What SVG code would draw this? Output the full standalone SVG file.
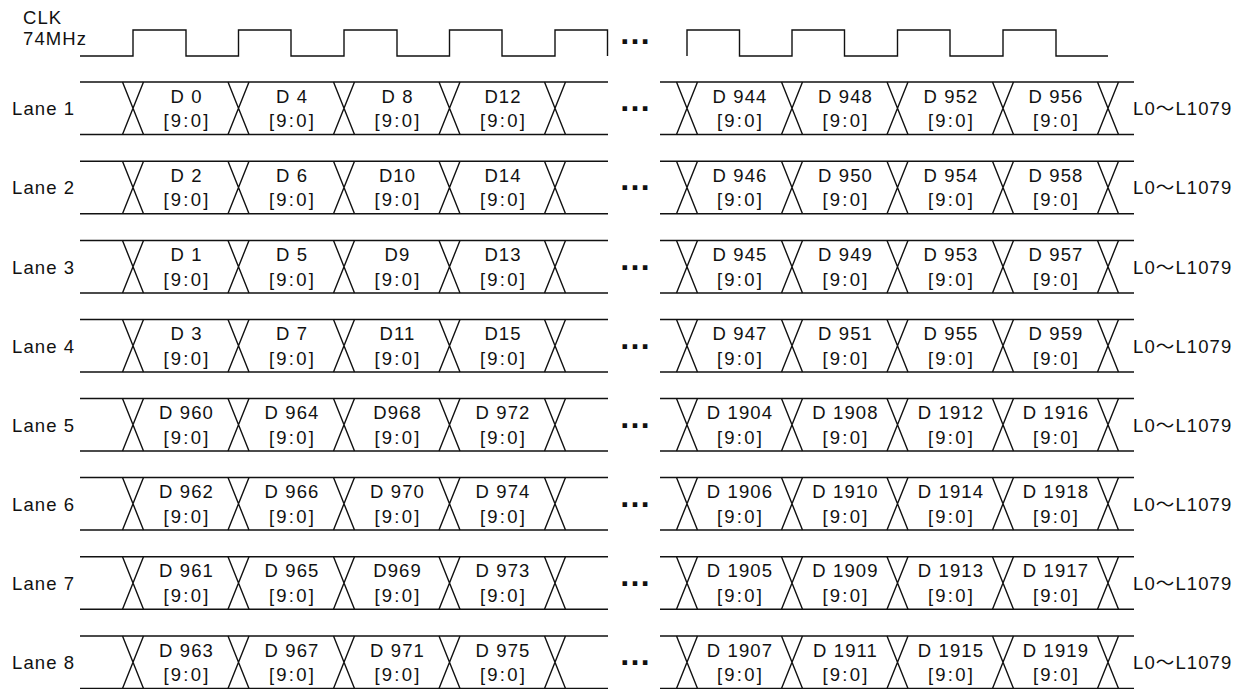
<svg xmlns="http://www.w3.org/2000/svg" xmlns:xlink="http://www.w3.org/1999/xlink" width="1253" height="689" viewBox="0 0 1253 689">
<style>
  .ln{fill:none;stroke:#111;stroke-width:1.4}
  .t{font-family:"Liberation Sans","Noto Sans CJK JP",sans-serif;font-size:18.5px;fill:#111}
  .lbl{letter-spacing:1.1px}
  .d{text-anchor:middle;letter-spacing:1.1px}
  .b{text-anchor:middle;letter-spacing:2.2px}
  .dots{font-family:"Liberation Sans",sans-serif;font-size:32px;font-weight:bold;fill:#111;text-anchor:middle}
</style>
<defs>
  <path id="x" class="ln" d="M-10.5,0 L10.5,52.5 M10.5,0 L-10.5,52.5"/>
  <g id="frame">
    <path class="ln" d="M80,0 H608 M80,52.5 H608 M660,0 H1134 M660,52.5 H1134"/>
    <use xlink:href="#x" x="133"/>
    <use xlink:href="#x" x="238.5"/>
    <use xlink:href="#x" x="344"/>
    <use xlink:href="#x" x="449.5"/>
    <use xlink:href="#x" x="555"/>
    <use xlink:href="#x" x="687"/>
    <use xlink:href="#x" x="792"/>
    <use xlink:href="#x" x="897.5"/>
    <use xlink:href="#x" x="1003"/>
    <use xlink:href="#x" x="1108"/>
    <text class="dots" x="635" y="29">…</text>
    <text class="t lbl" x="1133" y="33">L0～L1079</text>
  </g>
</defs>
<rect width="1253" height="689" fill="#fff"/>

<g id="clk">
  <text class="t lbl" x="23" y="23.5">CLK</text>
  <text class="t lbl" x="23" y="45">74MHz</text>
  <path class="ln" d="M80,56 H133 V30 H186 V56 H238.5 V30 H291 V56 H344 V30 H397 V56 H449.5 V30 H502 V56 H555 V30 H607.5 V56"/>
  <text class="dots" x="635" y="44">…</text>
  <path class="ln" d="M687,56 V30 H739.5 V56 H792 V30 H844.5 V56 H897.5 V30 H950 V56 H1003 V30 H1056 V56 H1108"/>
</g>

<g id="lane1" transform="translate(0,82)">
  <use xlink:href="#frame"/>
  <text class="t lbl" x="12" y="33">Lane 1</text>
  <g class="t d">
    <text x="186.5" y="20.5">D 0</text><text x="292" y="20.5">D 4</text><text x="397.5" y="20.5">D 8</text><text x="503" y="20.5">D12</text>
    <text x="740" y="20.5">D 944</text><text x="845.5" y="20.5">D 948</text><text x="951" y="20.5">D 952</text><text x="1056" y="20.5">D 956</text>
  </g>
  <g class="t b">
    <text x="187" y="45">[9:0]</text><text x="292.5" y="45">[9:0]</text><text x="398" y="45">[9:0]</text><text x="503.5" y="45">[9:0]</text>
    <text x="740.5" y="45">[9:0]</text><text x="846" y="45">[9:0]</text><text x="951.5" y="45">[9:0]</text><text x="1056.5" y="45">[9:0]</text>
  </g>
</g>

<g id="lane2" transform="translate(0,161.3)">
  <use xlink:href="#frame"/>
  <text class="t lbl" x="12" y="33">Lane 2</text>
  <g class="t d">
    <text x="186.5" y="20.5">D 2</text><text x="292" y="20.5">D 6</text><text x="397.5" y="20.5">D10</text><text x="503" y="20.5">D14</text>
    <text x="740" y="20.5">D 946</text><text x="845.5" y="20.5">D 950</text><text x="951" y="20.5">D 954</text><text x="1056" y="20.5">D 958</text>
  </g>
  <g class="t b">
    <text x="187" y="45">[9:0]</text><text x="292.5" y="45">[9:0]</text><text x="398" y="45">[9:0]</text><text x="503.5" y="45">[9:0]</text>
    <text x="740.5" y="45">[9:0]</text><text x="846" y="45">[9:0]</text><text x="951.5" y="45">[9:0]</text><text x="1056.5" y="45">[9:0]</text>
  </g>
</g>

<g id="lane3" transform="translate(0,240.5)">
  <use xlink:href="#frame"/>
  <text class="t lbl" x="12" y="33">Lane 3</text>
  <g class="t d">
    <text x="186.5" y="20.5">D 1</text><text x="292" y="20.5">D 5</text><text x="397.5" y="20.5">D9</text><text x="503" y="20.5">D13</text>
    <text x="740" y="20.5">D 945</text><text x="845.5" y="20.5">D 949</text><text x="951" y="20.5">D 953</text><text x="1056" y="20.5">D 957</text>
  </g>
  <g class="t b">
    <text x="187" y="45">[9:0]</text><text x="292.5" y="45">[9:0]</text><text x="398" y="45">[9:0]</text><text x="503.5" y="45">[9:0]</text>
    <text x="740.5" y="45">[9:0]</text><text x="846" y="45">[9:0]</text><text x="951.5" y="45">[9:0]</text><text x="1056.5" y="45">[9:0]</text>
  </g>
</g>

<g id="lane4" transform="translate(0,319.5)">
  <use xlink:href="#frame"/>
  <text class="t lbl" x="12" y="33">Lane 4</text>
  <g class="t d">
    <text x="186.5" y="20.5">D 3</text><text x="292" y="20.5">D 7</text><text x="397.5" y="20.5">D11</text><text x="503" y="20.5">D15</text>
    <text x="740" y="20.5">D 947</text><text x="845.5" y="20.5">D 951</text><text x="951" y="20.5">D 955</text><text x="1056" y="20.5">D 959</text>
  </g>
  <g class="t b">
    <text x="187" y="45">[9:0]</text><text x="292.5" y="45">[9:0]</text><text x="398" y="45">[9:0]</text><text x="503.5" y="45">[9:0]</text>
    <text x="740.5" y="45">[9:0]</text><text x="846" y="45">[9:0]</text><text x="951.5" y="45">[9:0]</text><text x="1056.5" y="45">[9:0]</text>
  </g>
</g>

<g id="lane5" transform="translate(0,398.5)">
  <use xlink:href="#frame"/>
  <text class="t lbl" x="12" y="33">Lane 5</text>
  <g class="t d">
    <text x="186.5" y="20.5">D 960</text><text x="292" y="20.5">D 964</text><text x="397.5" y="20.5">D968</text><text x="503" y="20.5">D 972</text>
    <text x="740" y="20.5">D 1904</text><text x="845.5" y="20.5">D 1908</text><text x="951" y="20.5">D 1912</text><text x="1056" y="20.5">D 1916</text>
  </g>
  <g class="t b">
    <text x="187" y="45">[9:0]</text><text x="292.5" y="45">[9:0]</text><text x="398" y="45">[9:0]</text><text x="503.5" y="45">[9:0]</text>
    <text x="740.5" y="45">[9:0]</text><text x="846" y="45">[9:0]</text><text x="951.5" y="45">[9:0]</text><text x="1056.5" y="45">[9:0]</text>
  </g>
</g>

<g id="lane6" transform="translate(0,477.5)">
  <use xlink:href="#frame"/>
  <text class="t lbl" x="12" y="33">Lane 6</text>
  <g class="t d">
    <text x="186.5" y="20.5">D 962</text><text x="292" y="20.5">D 966</text><text x="397.5" y="20.5">D 970</text><text x="503" y="20.5">D 974</text>
    <text x="740" y="20.5">D 1906</text><text x="845.5" y="20.5">D 1910</text><text x="951" y="20.5">D 1914</text><text x="1056" y="20.5">D 1918</text>
  </g>
  <g class="t b">
    <text x="187" y="45">[9:0]</text><text x="292.5" y="45">[9:0]</text><text x="398" y="45">[9:0]</text><text x="503.5" y="45">[9:0]</text>
    <text x="740.5" y="45">[9:0]</text><text x="846" y="45">[9:0]</text><text x="951.5" y="45">[9:0]</text><text x="1056.5" y="45">[9:0]</text>
  </g>
</g>

<g id="lane7" transform="translate(0,556.8)">
  <use xlink:href="#frame"/>
  <text class="t lbl" x="12" y="33">Lane 7</text>
  <g class="t d">
    <text x="186.5" y="20.5">D 961</text><text x="292" y="20.5">D 965</text><text x="397.5" y="20.5">D969</text><text x="503" y="20.5">D 973</text>
    <text x="740" y="20.5">D 1905</text><text x="845.5" y="20.5">D 1909</text><text x="951" y="20.5">D 1913</text><text x="1056" y="20.5">D 1917</text>
  </g>
  <g class="t b">
    <text x="187" y="45">[9:0]</text><text x="292.5" y="45">[9:0]</text><text x="398" y="45">[9:0]</text><text x="503.5" y="45">[9:0]</text>
    <text x="740.5" y="45">[9:0]</text><text x="846" y="45">[9:0]</text><text x="951.5" y="45">[9:0]</text><text x="1056.5" y="45">[9:0]</text>
  </g>
</g>

<g id="lane8" transform="translate(0,636)">
  <use xlink:href="#frame"/>
  <text class="t lbl" x="12" y="33">Lane 8</text>
  <g class="t d">
    <text x="186.5" y="20.5">D 963</text><text x="292" y="20.5">D 967</text><text x="397.5" y="20.5">D 971</text><text x="503" y="20.5">D 975</text>
    <text x="740" y="20.5">D 1907</text><text x="845.5" y="20.5">D 1911</text><text x="951" y="20.5">D 1915</text><text x="1056" y="20.5">D 1919</text>
  </g>
  <g class="t b">
    <text x="187" y="45">[9:0]</text><text x="292.5" y="45">[9:0]</text><text x="398" y="45">[9:0]</text><text x="503.5" y="45">[9:0]</text>
    <text x="740.5" y="45">[9:0]</text><text x="846" y="45">[9:0]</text><text x="951.5" y="45">[9:0]</text><text x="1056.5" y="45">[9:0]</text>
  </g>
</g>
</svg>
